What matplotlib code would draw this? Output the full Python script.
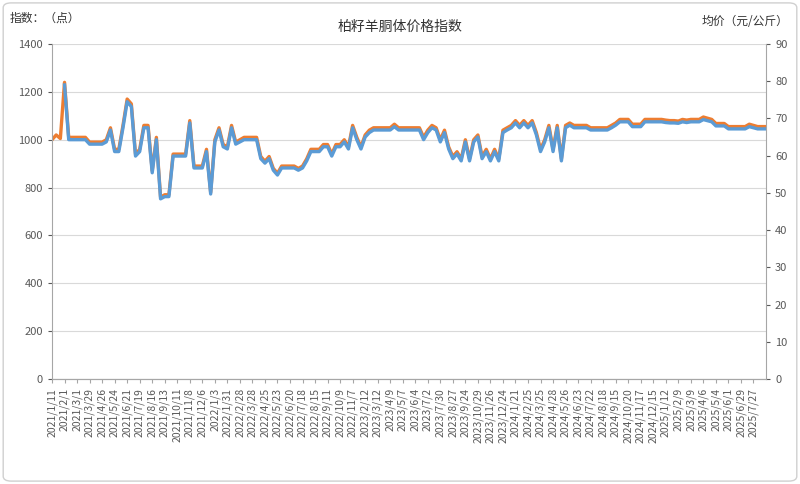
import matplotlib
matplotlib.use("Agg")
import matplotlib.pyplot as plt
import numpy as np

plt.rcParams['font.family'] = ['Noto Sans CJK SC', 'DejaVu Sans']

tick_labels = ["2021/1/11","2021/2/1","2021/3/1","2021/3/29","2021/4/26","2021/5/24","2021/6/21","2021/7/19",
 "2021/8/16","2021/9/13","2021/10/11","2021/11/8","2021/12/6","2022/1/3","2022/1/31","2022/2/28","2022/3/28",
 "2022/4/25","2022/5/23","2022/6/20","2022/7/18","2022/8/15","2022/9/11","2022/10/9","2022/11/7","2023/2/12",
 "2023/3/12","2023/4/9","2023/5/7","2023/6/4","2023/7/2","2023/7/30","2023/8/27","2023/9/24","2023/10/29",
 "2023/11/26","2023/12/24","2024/1/21","2024/2/25","2024/3/25","2024/4/28","2024/5/26","2024/6/23","2024/7/22",
 "2024/8/18","2024/9/15","2024/10/20","2024/11/17","2024/12/15","2025/1/12","2025/2/9","2025/3/9","2025/4/6",
 "2025/5/4","2025/6/1","2025/6/29","2025/7/27"]

index_vals = [1000,1020,1005,1240,1010,1010,1010,1010,1010,990,990,990,990,1000,1050,960,960,1060,1170,1150,
 940,960,1060,1060,870,1010,760,770,770,940,940,940,940,1080,890,890,890,960,780,1000,1050,980,970,1060,990,
 1000,1010,1010,1010,1010,930,910,930,880,860,890,890,890,890,880,890,920,960,960,960,980,980,940,980,980,
 1000,970,1060,1010,970,1020,1040,1050,1050,1050,1050,1050,1065,1050,1050,1050,1050,1050,1050,1010,1040,1060,
 1050,1000,1040,970,930,950,920,1000,920,1000,1020,930,960,920,960,920,1040,1050,1060,1080,1060,1080,1060,
 1080,1030,960,1000,1060,960,1060,920,1060,1070,1060,1060,1060,1060,1050,1050,1050,1050,1050,1060,1070,1085,
 1085,1085,1065,1065,1065,1085,1085,1085,1085,1085,1082,1080,1080,1078,1085,1082,1085,1085,1085,1095,1090,
 1085,1068,1068,1068,1055,1055,1055,1055,1055,1065,1060,1055,1055,1055]

price_vals = [np.nan,np.nan,np.nan,79.0,64.3,64.3,64.3,64.3,64.3,63.1,63.1,63.1,63.1,63.7,66.9,61.1,61.1,67.5,74.5,73.2,
 59.9,61.1,67.5,67.5,55.4,64.3,48.4,49.0,49.0,59.9,59.9,59.9,59.9,68.8,56.7,56.7,56.7,61.1,49.7,63.7,66.9,62.4,61.8,67.5,63.1,
 63.7,64.3,64.3,64.3,64.3,59.2,58.0,59.2,56.1,54.8,56.7,56.7,56.7,56.7,56.1,56.7,58.6,61.1,61.1,61.1,62.4,62.4,59.9,62.4,62.4,
 63.7,61.8,67.5,64.3,61.8,65.0,66.2,66.9,66.9,66.9,66.9,66.9,67.8,66.9,66.9,66.9,66.9,66.9,66.9,64.3,66.2,67.5,
 66.9,63.7,66.2,61.8,59.2,60.5,58.6,63.7,58.6,63.7,65.0,59.2,61.1,58.6,61.1,58.6,66.2,66.9,67.5,68.8,67.5,68.8,67.5,
 68.8,65.6,61.1,63.7,67.5,61.1,67.5,58.6,67.5,68.2,67.5,67.5,67.5,67.5,66.9,66.9,66.9,66.9,66.9,67.5,68.2,69.1,
 69.1,69.1,67.8,67.8,67.8,69.1,69.1,69.1,69.1,69.1,68.9,68.8,68.8,68.7,69.1,68.9,69.1,69.1,69.1,69.7,69.4,
 69.1,68.0,68.0,68.0,67.2,67.2,67.2,67.2,67.2,67.8,67.5,67.2,67.2,67.2]

fig = plt.figure(figsize=(8, 4.84), dpi=100)
ax = fig.add_axes([0.065, 0.217, 0.8925, 0.692])
ax2 = ax.twinx()
x = np.arange(len(index_vals))
ax.plot(x, index_vals, color='#ED7D31', lw=2.4, zorder=2)
ax2.plot(x, price_vals, color='#5B9BD5', lw=2.4, zorder=3)
ax.set_ylim(0, 1400)
ax.set_yticks(range(0, 1401, 200))
ax2.set_ylim(0, 90)
ax2.set_yticks(range(0, 91, 10))
ax.set_xlim(0, len(index_vals) - 1)
ax.set_xticks(np.arange(len(tick_labels)) * 3)
ax.set_xticklabels(tick_labels, rotation=90, fontsize=7.5, color='#595959')
ax.grid(axis='y', color='#d9d9d9', lw=0.8)
ax.set_axisbelow(True)
for a in (ax, ax2):
    a.tick_params(axis='y', labelsize=8, colors='#595959', length=3)
    for s in ('top',):
        a.spines[s].set_visible(False)
    a.spines['left'].set_color('#a6a6a6')
    a.spines['right'].set_color('#a6a6a6')
    a.spines['bottom'].set_color('#a6a6a6')
ax.tick_params(axis='x', length=3, colors='#a6a6a6', labelcolor='#595959')
ax.spines['right'].set_visible(False)
ax2.spines['left'].set_visible(False)

fig.text(0.5, 0.945, '柏籽羊胴体价格指数', ha='center', va='center', fontsize=10, color='#333333')
fig.text(0.012, 0.962, '指数：（点）', ha='left', va='center', fontsize=8.5, color='#333333')
fig.text(0.985, 0.955, '均价（元/公斤）', ha='right', va='center', fontsize=8.5, color='#333333')
fig.patches.append(matplotlib.patches.FancyBboxPatch((0.004, 0.006), 0.992, 0.988,
    boxstyle='round,pad=0,rounding_size=0.01', transform=fig.transFigure, fill=False, ec='#d0d0d0', lw=1))
fig.savefig('out.png', dpi=100)
